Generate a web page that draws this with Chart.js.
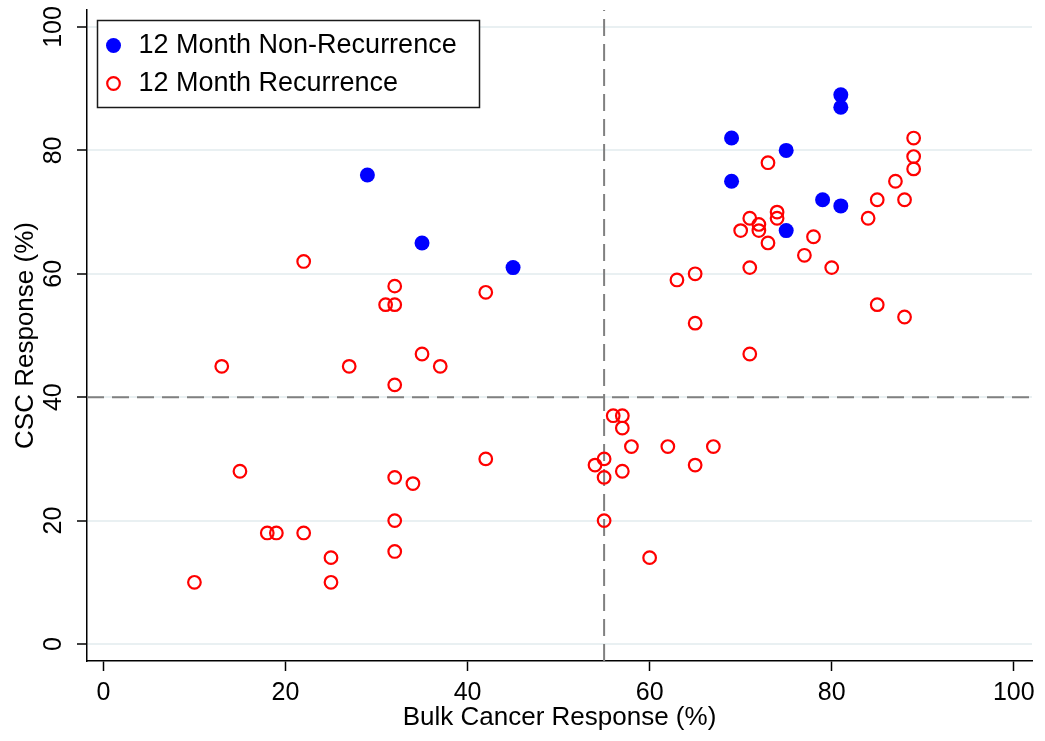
<!DOCTYPE html>
<html>
<head>
<meta charset="utf-8">
<title>CSC vs Bulk Cancer Response</title>
<script src="https://cdn.jsdelivr.net/npm/chart.js@4.4.1/dist/chart.umd.min.js"></script>
<style>
  html, body { margin: 0; padding: 0; background: #fff; }
  #wrap { width: 1045px; height: 741px; }
</style>
</head>
<body>
<div id="wrap"><canvas id="chart" width="1045" height="741"></canvas></div>
<script>
/* ====== DATA ====== */
const seriesNames = ['12 Month Non-Recurrence', '12 Month Recurrence'];

// 12 month non-recurrence (filled blue)
const nonRecBulk = [29, 35, 45, 69, 69, 75, 75, 79, 81, 81, 81];
const nonRecCsc  = [76, 65, 61, 82, 75, 80, 67, 72, 89, 87, 71];

// 12 month recurrence (hollow red)
const recBulk = [10, 13, 15, 18, 19, 22, 22, 25, 25, 27, 31, 32, 32, 32, 32, 32, 32, 34, 35, 37,
                 42, 42, 54, 55, 55, 55, 56, 57, 57, 57, 58, 60, 62, 63, 65, 65, 65, 67, 70, 71,
                 71, 71, 72, 72, 73, 73, 74, 74, 77, 78, 80, 84, 85, 85, 87, 88, 88, 89, 89, 89];
const recCsc  = [10, 45, 28, 18, 18, 62, 18, 14, 10, 45, 55, 55, 58, 42, 27, 20, 15, 26, 47, 45,
                 57, 30, 29, 30, 27, 20, 37, 37, 35, 28, 32, 14, 32, 59, 60, 52, 29, 32, 67, 69,
                 61, 47, 68, 67, 78, 65, 70, 69, 63, 66, 61, 69, 72, 55, 75, 72, 53, 82, 79, 77];

const xTickValues = [0, 20, 40, 60, 80, 100];
const yTickValues = [0, 20, 40, 60, 80, 100];

// cut-off reference lines
const bulkCutoff = 55;
const cscCutoff = 40;

const xRange = [-1.8, 102];
const yRange = [-2.75, 102.75];

const FONT = '"Liberation Sans", Arial, Helvetica, sans-serif';

function toPoints(xs, ys) {
  return xs.map((x, i) => ({ x: x, y: ys[i] }));
}

/* ====== LEGEND BOX (drawn inside the plot, top-left) ====== */
const boxLegend = {
  id: 'boxLegend',
  afterDraw(chart, args, opts) {
    const ctx = chart.ctx;
    const items = chart.data.datasets.filter(ds => ds.inLegend);
    ctx.save();
    ctx.fillStyle = '#fff';
    ctx.fillRect(opts.x, opts.y, opts.w, opts.h);
    ctx.lineWidth = 1.5;
    ctx.strokeStyle = '#1a1a1a';
    ctx.strokeRect(opts.x, opts.y, opts.w, opts.h);
    ctx.font = '27px ' + FONT;
    ctx.textBaseline = 'middle';
    items.forEach((ds, i) => {
      const cy = opts.y + opts.firstRow + i * opts.rowGap;
      const cx = opts.x + opts.markerX;
      ctx.beginPath();
      ctx.arc(cx, cy, ds.pointRadius, 0, Math.PI * 2);
      if (ds.borderWidth > 0) {
        ctx.lineWidth = ds.borderWidth;
        ctx.strokeStyle = ds.borderColor;
        ctx.stroke();
      } else {
        ctx.fillStyle = ds.backgroundColor;
        ctx.fill();
      }
      ctx.fillStyle = '#000';
      ctx.fillText(ds.label, opts.x + opts.textX, cy);
    });
    ctx.restore();
  }
};

/* ====== CHART ====== */
const ctx = document.getElementById('chart').getContext('2d');
new Chart(ctx, {
  type: 'scatter',
  data: {
    datasets: [
      {
        label: seriesNames[0],
        inLegend: true,
        data: toPoints(nonRecBulk, nonRecCsc),
        pointRadius: 7.5,
        pointHoverRadius: 7.5,
        backgroundColor: '#0000ff',
        borderColor: '#0000ff',
        borderWidth: 0,
        order: 1
      },
      {
        label: seriesNames[1],
        inLegend: true,
        data: toPoints(recBulk, recCsc),
        pointRadius: 6.3,
        pointHoverRadius: 6.3,
        backgroundColor: 'rgba(0,0,0,0)',
        borderColor: '#ff0000',
        borderWidth: 2.2,
        order: 2
      },
      {
        type: 'line',
        label: 'bulk cutoff',
        data: [{ x: bulkCutoff, y: yRange[0] }, { x: bulkCutoff, y: yRange[1] }],
        borderColor: '#808080',
        borderWidth: 2,
        borderDash: [17, 8],
        pointRadius: 0,
        fill: false,
        order: 5
      },
      {
        type: 'line',
        label: 'csc cutoff',
        data: [{ x: xRange[0], y: cscCutoff }, { x: xRange[1], y: cscCutoff }],
        borderColor: '#808080',
        borderWidth: 2,
        borderDash: [17, 8],
        pointRadius: 0,
        fill: false,
        order: 5
      }
    ]
  },
  options: {
    responsive: false,
    animation: false,
    layout: { padding: { top: 10, right: 13, left: 0, bottom: 0 } },
    plugins: {
      legend: { display: false },
      tooltip: { enabled: false },
      boxLegend: { x: 97.5, y: 20.5, w: 382, h: 87, markerX: 16, textX: 41, firstRow: 25, rowGap: 38 }
    },
    scales: {
      x: {
        type: 'linear',
        min: xRange[0],
        max: xRange[1],
        afterBuildTicks: axis => { axis.ticks = xTickValues.map(v => ({ value: v })); },
        afterFit: axis => {
          axis.height = 80;
          axis.paddingLeft = 0;
          axis.paddingRight = 0;
        },
        grid: { drawOnChartArea: false, drawTicks: true, tickLength: 10, tickColor: '#000', tickWidth: 1.5 },
        border: { display: true, color: '#000', width: 1.5 },
        ticks: { color: '#000', font: { family: FONT, size: 25 }, padding: 7, maxRotation: 0 },
        title: {
          display: true,
          text: 'Bulk Cancer Response (%)',
          color: '#000',
          font: { family: FONT, size: 26 },
          padding: { top: 0, bottom: 8 }
        }
      },
      y: {
        type: 'linear',
        min: yRange[0],
        max: yRange[1],
        afterBuildTicks: axis => { axis.ticks = yTickValues.map(v => ({ value: v })); },
        afterFit: axis => {
          axis.width = 87;
          axis.paddingTop = 0;
          axis.paddingBottom = 0;
        },
        grid: { color: '#e9f0f2', lineWidth: 2, drawTicks: true, tickLength: 10, tickColor: '#000', tickWidth: 1.5 },
        border: { display: true, color: '#000', width: 1.5 },
        ticks: { color: '#000', font: { family: FONT, size: 25 }, minRotation: 90, maxRotation: 90, crossAlign: 'center', padding: 2 },
        title: {
          display: true,
          text: 'CSC Response (%)',
          color: '#000',
          font: { family: FONT, size: 26 },
          padding: { top: 10, bottom: 0 }
        }
      }
    }
  },
  plugins: [boxLegend]
});
</script>
</body>
</html>
